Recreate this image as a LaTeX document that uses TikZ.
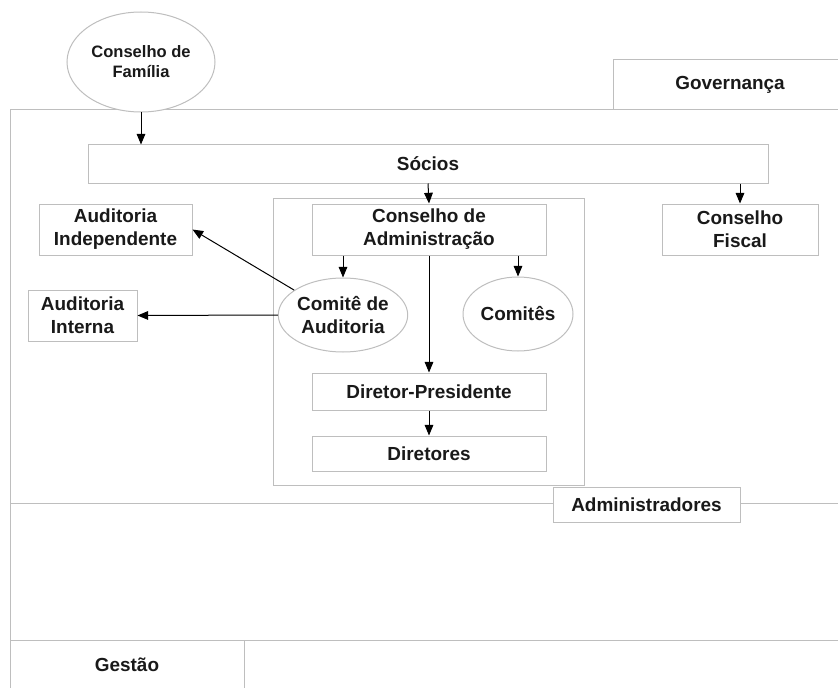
\documentclass[tikz,border=0pt]{standalone}
\usepackage{fontspec}
\setmainfont{Liberation Sans}
\usetikzlibrary{arrows.meta,shapes.geometric}

\definecolor{linegray}{RGB}{190,190,190}
\definecolor{txtgray}{RGB}{25,25,25}

\tikzset{every picture/.style={line width=0.75pt}}
\tikzset{
  box/.style={draw=linegray, fill=white, align=center, inner sep=0pt, text=txtgray,
    font=\fontsize{14.2}{17.2}\selectfont\bfseries},
  oval/.style={box, ellipse},
  label/.style={inner sep=0pt, text=txtgray, font=\fontsize{14.2}{17.2}\selectfont\bfseries},
  >={Triangle[length=8pt,width=6.5pt]}
}

\begin{document}
\begin{tikzpicture}[x=0.75pt,y=0.75pt,yscale=-1]

\useasboundingbox (0,0) rectangle (838,688);

% frame
\draw [linegray]  (10,688) -- (10,110) -- (838,110) ;
\draw [linegray]  (613,110) -- (613,60) -- (838,60) ;
\draw [linegray]  (10,503) -- (838,503) ;
\draw [linegray]  (10,640) -- (838,640) ;
\draw [linegray]  (244,640) -- (244,688) ;
\draw [linegray]  (273,198) rectangle (584,485) ;

\draw (730,85) node [label] (gov) {Governança};
\draw (127,665) node [label] (gest) {Gestão};

\draw (141,62) node [oval, minimum width=111pt, minimum height=75pt,
  font=\fontsize{12.4}{15}\selectfont\bfseries] (fam) {Conselho de\\Família};

\draw (428,164) node [box, minimum width=510pt, minimum height=28.5pt] (socios) {Sócios};
\draw (115.5,229.5) node [box, minimum width=114.75pt, minimum height=38.25pt] (audind) {Auditoria\\Independente};
\draw (429,229.5) node [box, minimum width=175.5pt, minimum height=38.25pt] (cadm) {Conselho de\\Administração};
\draw (740,229.5) node [box, minimum width=117pt, minimum height=38.25pt] (fiscal) {Conselho\\Fiscal};
\draw (82.5,315.5) node [box, minimum width=81.75pt, minimum height=38.25pt] (audint) {Auditoria\\Interna};

\draw (343,315) node [oval, minimum width=82.5pt, minimum height=55.5pt] (comaud) {Comitê de\\Auditoria};
\draw (518,314) node [oval, minimum width=82.5pt, minimum height=55.5pt] (comites) {Comitês};

\draw (429,391.5) node [box, minimum width=175.5pt, minimum height=27.75pt] (dp) {Diretor-Presidente};
\draw (429,453.5) node [box, minimum width=175.5pt, minimum height=26.25pt] (dir) {Diretores};
\draw (646.5,504.5) node [box, minimum width=140.25pt, minimum height=26.25pt] (admin) {Administradores};

% arrows
\draw [->]  (fam.south) -- (fam.south |- socios.north) ;
\draw [->]  (socios.south) -- (cadm.north) ;
\draw [->]  (fiscal.north |- socios.south) -- (fiscal.north) ;
\draw [->]  (comaud.north |- cadm.south) -- (comaud.north) ;
\draw [->]  (comites.north |- cadm.south) -- (comites.north) ;
\draw [->]  (cadm.south) -- (dp.north) ;
\draw [->]  (dp.south) -- (dir.north) ;
\draw [->]  (comaud.west) -- (audint.east) ;
\draw [->]  (comaud.153) -- (audind.east) ;

\end{tikzpicture}
\end{document}
